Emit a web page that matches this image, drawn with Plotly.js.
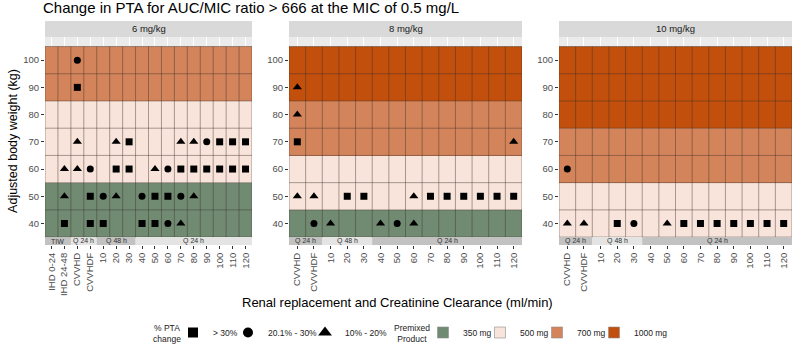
<!DOCTYPE html>
<html>
<head>
<meta charset="utf-8">
<script src="https://cdn.plot.ly/plotly-3.0.1.min.js"></script>
<style>html,body{margin:0;padding:0;background:#fff}</style>
</head>
<body>
<div id="chart" style="width:794px;height:350px"></div>
<script>
// ---- data ----
const weights = [40, 50, 60, 70, 80, 90, 100];
const clearance = ['10', '20', '30', '40', '50', '60', '70', '80', '90', '100', '110', '120'];
const cats6 = ['IHD 0-24', 'IHD 24-48', 'CVVHD', 'CVVHDF'].concat(clearance);
const cats8 = ['CVVHD', 'CVVHDF'].concat(clearance);
const cats10 = ['CVVHD', 'CVVHDF'].concat(clearance);
const panelTitles = ['6 mg/kg', '8 mg/kg', '10 mg/kg'];

// premixed product (mg) for each weight row, 40 kg to 100 kg
const product6 = [350, 350, 500, 500, 500, 700, 700];
const product8 = [350, 500, 500, 700, 700, 1000, 1000];
const product10 = [500, 500, 700, 700, 1000, 1000, 1000];
const productLevels = [350, 500, 700, 1000];
const productLabels = ['350 mg', '500 mg', '700 mg', '1000 mg'];
const productColors = ['#718b72', '#f8e4da', '#d4845a', '#c24f0c'];

// % PTA change classes
const changeLabels = ['> 30%', '20.1% - 30%', '10% - 20%'];
const changeSymbols = ['square', 'circle', 'triangle-up'];

// [renal category, weight, change class]
const pta6 = [
  ['CVVHD', 100, 1],
  ['CVVHD', 90, 0],
  ['CVVHD', 70, 2], ['20', 70, 2], ['30', 70, 0], ['70', 70, 2], ['80', 70, 2], ['90', 70, 1],
  ['100', 70, 0], ['110', 70, 0], ['120', 70, 0],
  ['IHD 24-48', 60, 2], ['CVVHD', 60, 2], ['CVVHDF', 60, 1], ['20', 60, 0], ['30', 60, 0],
  ['50', 60, 2], ['60', 60, 1], ['70', 60, 0], ['80', 60, 0], ['90', 60, 0], ['100', 60, 0],
  ['110', 60, 0], ['120', 60, 0],
  ['IHD 24-48', 50, 2], ['CVVHDF', 50, 0], ['10', 50, 1], ['20', 50, 2], ['40', 50, 1],
  ['50', 50, 0], ['60', 50, 0], ['70', 50, 1], ['80', 50, 2],
  ['IHD 24-48', 40, 0], ['CVVHDF', 40, 0], ['10', 40, 0], ['40', 40, 0], ['50', 40, 0],
  ['60', 40, 1], ['70', 40, 2]
];
const pta8 = [
  ['CVVHD', 90, 2],
  ['CVVHD', 80, 2],
  ['CVVHD', 70, 0], ['120', 70, 2],
  ['CVVHD', 50, 2], ['CVVHDF', 50, 2], ['20', 50, 0], ['30', 50, 0], ['60', 50, 2],
  ['70', 50, 0], ['80', 50, 0], ['90', 50, 0], ['100', 50, 0], ['110', 50, 0], ['120', 50, 0],
  ['CVVHDF', 40, 1], ['10', 40, 2], ['40', 40, 2], ['50', 40, 1], ['60', 40, 2]
];
const pta10 = [
  ['CVVHD', 60, 1],
  ['CVVHD', 40, 2], ['CVVHDF', 40, 2], ['20', 40, 0], ['30', 40, 1], ['50', 40, 2],
  ['60', 40, 0], ['70', 40, 0], ['80', 40, 0], ['90', 40, 0], ['100', 40, 0], ['110', 40, 0], ['120', 40, 0]
];

// dosing interval bands: [label, first category, last category]
const interval6 = [['TIW', 'IHD 0-24', 'IHD 24-48'], ['Q 24 h', 'CVVHD', 'CVVHDF'], ['Q 48 h', '10', '30'], ['Q 24 h', '40', '120']];
const interval8 = [['Q 24 h', 'CVVHD', 'CVVHDF'], ['Q 48 h', '10', '30'], ['Q 24 h', '40', '120']];
const interval10 = [['Q 24 h', 'CVVHD', 'CVVHDF'], ['Q 48 h', '10', '30'], ['Q 24 h', '40', '120']];

// ---- layout helpers ----
const FONT = 'Liberation Sans, Arial, Helvetica, sans-serif';
const W = 794, H = 350;
const M = {l: 45, r: 2, t: 37, b: 105, autoexpand: false};
const plotW = W - M.l - M.r, plotH = H - M.t - M.b;
const px = v => (v - M.l) / plotW;            // pixel column -> paper x
const py = v => (M.t + plotH - v) / plotH;    // pixel row -> paper y
const domains = [[px(45), px(252)], [px(289), px(522)], [px(559), px(792)]];
const yRange = [32.1, 108.5];
const tileLo = 35, tileHi = 105;

const panels = [
  {cats: cats6, product: product6, pta: pta6, interval: interval6},
  {cats: cats8, product: product8, pta: pta8, interval: interval8},
  {cats: cats10, product: product10, pta: pta10, interval: interval10}
];

const step = productLevels.length - 1;
const discreteScale = [];
productColors.forEach((c, i) => {
  const lo = Math.max(0, (i - 0.5) / step), hi = Math.min(1, (i + 0.5) / step);
  discreteScale.push([lo, c], [hi, c]);
});

const traces = [];
const shapes = [];
const annotations = [];
const layout = {
  width: W, height: H,
  margin: M,
  paper_bgcolor: '#ffffff',
  plot_bgcolor: '#ebebeb',
  font: {family: FONT, color: '#4d4d4d'},
  showlegend: true,
  title: {
    text: 'Change in PTA for AUC/MIC ratio > 666 at the MIC of 0.5 mg/L',
    font: {family: FONT, size: 15, color: '#000'},
    x: 43 / W, xanchor: 'left', xref: 'container',
    y: 1 - 8 / H, yanchor: 'middle', yref: 'container'
  }
};

const markerSize = {'square': 7, 'circle': 7, 'triangle-up': 8};

panels.forEach((p, k) => {
  const sfx = k === 0 ? '' : String(k + 1);
  const xa = 'x' + sfx, ya = 'y' + sfx;
  const n = p.cats.length;

  // tiles coloured by premixed product
  const z = weights.map((w, i) => p.cats.map(() => productLevels.indexOf(p.product[i])));
  traces.push({
    type: 'heatmap', x: p.cats, y: weights, z: z,
    zmin: 0, zmax: step, colorscale: discreteScale, showscale: false,
    hoverinfo: 'skip', xaxis: xa, yaxis: ya, showlegend: false
  });

  // % PTA change markers
  changeSymbols.forEach((sym, c) => {
    const pts = p.pta.filter(d => d[2] === c);
    traces.push({
      type: 'scatter', mode: 'markers',
      x: pts.map(d => d[0]), y: pts.map(d => d[1]),
      marker: {symbol: sym, size: markerSize[sym], color: '#000', line: {width: 0}},
      xaxis: xa, yaxis: ya, showlegend: false, hoverinfo: 'skip', cliponaxis: false
    });
  });

  // tile borders
  for (let j = 0; j <= n; j++) {
    shapes.push({type: 'line', xref: xa, yref: ya, x0: j - 0.5, x1: j - 0.5, y0: tileLo, y1: tileHi,
      line: {color: 'rgba(60,48,42,0.55)', width: 0.8}});
  }
  for (let i = 0; i <= weights.length; i++) {
    const y = tileLo + i * 10;
    shapes.push({type: 'line', xref: xa, yref: ya, x0: -0.5, x1: n - 0.5, y0: y, y1: y,
      line: {color: 'rgba(60,48,42,0.55)', width: 0.8}});
  }

  // dosing interval band
  p.interval.forEach((g, gi) => {
    const a = p.cats.indexOf(g[1]) - 0.5, b = p.cats.indexOf(g[2]) + 0.5;
    shapes.push({type: 'rect', xref: xa, yref: ya, x0: a, x1: b, y0: yRange[0], y1: tileLo,
      fillcolor: gi % 2 === 0 ? '#c2c2c2' : '#e4e4e4', line: {width: 0}, layer: 'above'});
    annotations.push({xref: xa, yref: ya, x: (a + b) / 2, y: (yRange[0] + tileLo) / 2,
      text: g[0], showarrow: false, font: {family: FONT, size: 7, color: '#333'}});
  });

  // facet strip
  shapes.push({type: 'rect', xref: xa + ' domain', yref: 'paper', x0: 0, x1: 1, y0: 1, y1: 1 + 16 / plotH,
    fillcolor: '#d9d9d9', line: {width: 0}});
  annotations.push({xref: xa + ' domain', yref: 'paper', x: 0.5, y: 1 + 8 / plotH, yanchor: 'middle',
    text: panelTitles[k], showarrow: false, font: {family: FONT, size: 9.5, color: '#1a1a1a'}});

  layout['xaxis' + sfx] = {
    domain: domains[k], anchor: ya, type: 'category', categoryarray: p.cats, categoryorder: 'array',
    range: [-0.5, n - 0.5], tickangle: -90, ticks: 'outside', ticklen: 3, tickcolor: '#333',
    tickfont: {family: FONT, size: 9.5, color: '#4d4d4d'}, showgrid: true, gridcolor: '#ffffff',
    gridwidth: 1, zeroline: false, showline: false, fixedrange: true, automargin: false
  };
  layout['yaxis' + sfx] = {
    domain: [0, 1], anchor: xa, range: yRange, tickvals: weights, ticks: 'outside', ticklen: 3,
    tickcolor: '#333', tickfont: {family: FONT, size: 9.5, color: '#4d4d4d'},
    showgrid: false, zeroline: false, showline: false, fixedrange: true, automargin: false
  };
});

layout.yaxis.title = {text: 'Adjusted body weight (kg)', font: {family: FONT, size: 12.5, color: '#000'}, standoff: 2};

annotations.push({xref: 'paper', yref: 'paper', x: px(397), y: py(302), xanchor: 'center',
  text: 'Renal replacement and Creatinine Clearance (ml/min)', showarrow: false,
  yanchor: 'middle', font: {family: FONT, size: 13, color: '#000'}});

// legend titles
annotations.push({xref: 'paper', yref: 'paper', x: px(167), y: py(333), xanchor: 'center', yanchor: 'middle',
  align: 'center', text: '% PTA<br>change', showarrow: false, font: {family: FONT, size: 8.5, color: '#1a1a1a'}});
annotations.push({xref: 'paper', yref: 'paper', x: px(412), y: py(333), xanchor: 'center', yanchor: 'middle',
  align: 'center', text: 'Premixed<br>Product', showarrow: false, font: {family: FONT, size: 8.5, color: '#1a1a1a'}});

// legend entries
const changeWidths = [10, 32, 0];
changeSymbols.forEach((sym, c) => {
  traces.push({type: 'scatter', mode: 'markers', x: [null], y: [null], name: changeLabels[c],
    marker: {symbol: sym, size: sym === 'triangle-up' ? 12 : 10, color: '#000'},
    legend: 'legend', legendwidth: changeWidths[c] || undefined, showlegend: true, hoverinfo: 'skip'});
});
productColors.forEach((col, i) => {
  traces.push({type: 'scatter', mode: 'markers', x: [null], y: [null], name: productLabels[i],
    marker: {symbol: 'square', size: 11, color: col, line: {color: '#8c8c8c', width: 0.6}},
    legend: 'legend2', legendwidth: i < 3 ? 12 : undefined, showlegend: true, hoverinfo: 'skip'});
});

layout.legend = {
  orientation: 'h', x: px(193 - 20), y: py(318), xanchor: 'left', yanchor: 'top',
  font: {family: FONT, size: 8.5, color: '#1a1a1a'}, bgcolor: 'rgba(0,0,0,0)', itemclick: false
};
layout.legend2 = {
  orientation: 'h', x: px(443 - 20), y: py(318), xanchor: 'left', yanchor: 'top',
  font: {family: FONT, size: 8.5, color: '#1a1a1a'}, bgcolor: 'rgba(0,0,0,0)', itemclick: false
};

layout.shapes = shapes;
layout.annotations = annotations;

Plotly.newPlot('chart', traces, layout, {staticPlot: true, displayModeBar: false});
</script>
</body>
</html>
